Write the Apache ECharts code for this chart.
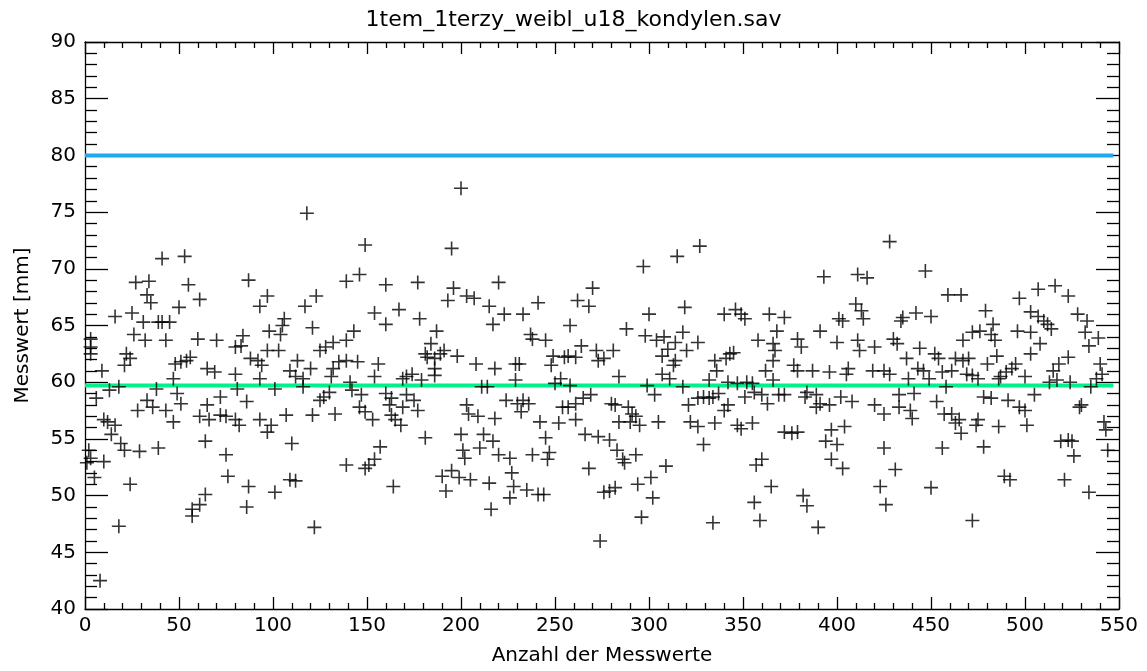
<!DOCTYPE html>
<html>
<head>
<meta charset="utf-8">
<script src="https://cdn.jsdelivr.net/npm/echarts@6/dist/echarts.min.js"></script>
<style>
html,body{margin:0;padding:0;background:#fff;}
#chart{width:1147px;height:671px;}
</style>
</head>
<body>
<div id="chart"></div>
<script>
// ---- data (x = Nr. des Messwerts, y = Messwert in mm) ----
const titleText = "1tem_1terzy_weibl_u18_kondylen.sav";
const xName = "Anzahl der Messwerte";
const yName = "Messwert [mm]";
const upperLimit = 80;
const meanValue = 59.7;
const lineEnd = 547;

const pts_000_044 = [[41,70.9],[27,68.8],[34,68.9],[33,67.7],[35,67.0],[16,65.8],[25,66.1],[31,65.3],[39,65.3],[41,65.3],[3,63.8],[3,63.1],[3,62.5],[26,64.2],[32,63.7],[22,62.5],[24,62.1],[21,61.5],[43,63.7],[9,61.0],[13,59.3],[18,59.6],[38,59.4],[33,58.4],[6,58.6],[28,57.5],[36,57.8],[43,57.5],[10,56.7],[12,56.5],[16,56.2],[14,55.4],[19,54.6],[21,54.0],[29,53.9],[39,54.2],[2,54.0],[3,53.3],[10,53.0],[1,52.9],[5,51.6],[24,51.0],[18,47.3],[8,42.5]];
const pts_045_089 = [[53,71.1],[87,69.0],[55,68.6],[61,67.3],[50,66.6],[45,65.3],[60,63.8],[70,63.7],[84,64.1],[80,63.1],[83,63.2],[88,62.1],[56,62.2],[54,61.9],[51,61.8],[48,61.6],[65,61.2],[69,60.9],[80,60.7],[47,60.3],[81,59.4],[49,59.0],[51,58.1],[72,58.7],[65,58.0],[86,58.3],[47,56.5],[61,57.0],[66,56.7],[72,57.1],[75,57.0],[80,56.7],[82,56.2],[64,54.8],[75,53.6],[76,51.7],[87,50.8],[64,50.1],[61,49.2],[57,48.8],[57,48.2],[86,49.0]];
const pts_090_135 = [[118,74.9],[123,67.6],[117,66.7],[97,67.6],[93,66.7],[106,65.6],[105,65.0],[98,64.5],[104,64.2],[121,64.8],[97,62.8],[103,62.8],[92,61.9],[94,61.5],[93,60.3],[113,61.9],[109,61.0],[112,60.5],[116,60.3],[120,61.2],[125,62.8],[128,63.1],[132,63.5],[135,61.8],[132,61.2],[131,60.5],[101,59.4],[116,59.6],[130,59.1],[127,58.7],[125,58.4],[93,56.7],[99,56.2],[97,55.6],[107,57.1],[121,57.1],[133,57.2],[110,54.6],[109,51.4],[112,51.3],[101,50.3],[122,47.2]];
const pts_136_182 = [[149,72.1],[146,69.5],[139,68.9],[160,68.6],[177,68.8],[154,66.1],[160,65.1],[167,66.4],[178,65.6],[143,64.5],[139,63.7],[139,61.9],[145,61.8],[156,61.6],[154,60.5],[141,60.0],[169,60.3],[171,60.5],[174,60.7],[179,60.2],[181,62.5],[182,62.2],[142,59.3],[147,58.9],[160,59.0],[163,58.6],[171,58.9],[146,57.8],[149,57.4],[153,56.7],[162,58.0],[169,57.8],[175,58.4],[177,57.5],[163,57.1],[165,56.7],[168,56.2],[181,55.1],[157,54.3],[154,53.2],[139,52.7],[151,52.7],[149,52.4],[164,50.8]];
const pts_183_229 = [[200,77.1],[195,71.8],[220,68.8],[196,68.3],[193,67.2],[203,67.6],[207,67.4],[215,66.7],[223,66.0],[217,65.1],[187,64.5],[184,63.4],[191,62.8],[189,62.5],[198,62.3],[186,62.1],[186,61.2],[186,60.6],[208,61.6],[218,61.2],[229,61.6],[211,59.6],[214,59.6],[229,60.2],[224,58.4],[230,58.1],[203,58.0],[204,57.2],[209,57.0],[218,56.8],[200,55.4],[212,55.4],[217,54.8],[201,54.0],[202,53.3],[210,54.2],[220,53.6],[226,53.3],[190,51.7],[195,52.2],[199,51.6],[205,51.4],[215,51.1],[192,50.4],[227,52.0],[228,50.8],[226,49.8],[216,48.8]];
const pts_230_276 = [[270,68.3],[262,67.2],[268,66.7],[241,67.0],[233,66.0],[258,65.0],[237,64.2],[238,63.8],[245,63.7],[264,63.2],[272,62.8],[276,62.1],[249,62.3],[255,62.2],[257,62.3],[261,62.2],[273,61.9],[231,61.6],[248,61.5],[253,60.3],[250,59.9],[258,59.7],[269,58.9],[265,58.6],[261,58.1],[254,57.8],[257,57.8],[233,58.4],[236,58.1],[232,57.4],[242,56.5],[252,56.4],[261,56.7],[266,55.4],[273,55.2],[245,55.1],[238,53.6],[247,53.8],[246,53.2],[268,52.4],[235,50.5],[241,50.1],[244,50.1],[276,50.3],[274,46.0]];
const pts_277_323 = [[297,70.2],[315,71.1],[300,66.0],[319,66.6],[288,64.7],[298,64.1],[304,63.7],[308,64.0],[318,64.4],[314,63.5],[310,62.9],[320,62.8],[307,62.3],[314,61.9],[313,61.5],[281,62.8],[284,60.5],[307,60.7],[311,60.3],[299,59.7],[303,58.9],[318,59.6],[280,58.1],[282,58.0],[289,57.8],[291,57.2],[293,57.0],[295,56.2],[290,56.5],[284,56.5],[279,54.9],[283,54.0],[286,53.2],[287,52.9],[293,53.6],[305,56.5],[309,52.6],[321,58.0],[322,56.5],[282,50.7],[279,50.4],[294,51.0],[301,51.6],[302,49.8],[296,48.1]];
const pts_324_369 = [[327,72.0],[326,63.5],[340,66.0],[346,66.4],[349,66.0],[351,65.6],[364,66.0],[358,63.7],[368,64.5],[366,63.4],[367,62.8],[366,61.9],[362,61.0],[345,62.6],[343,62.5],[341,62.1],[335,61.9],[336,61.0],[332,60.2],[342,60.0],[347,59.9],[352,60.0],[355,59.9],[366,60.2],[337,59.0],[356,59.1],[326,58.6],[329,58.7],[332,58.6],[334,58.7],[351,58.7],[360,58.9],[363,58.1],[369,58.9],[342,58.0],[340,57.5],[335,56.4],[347,56.2],[349,55.9],[355,56.4],[326,56.1],[329,54.5],[360,53.2],[357,52.7],[365,50.8],[356,49.4],[359,47.8],[334,47.6]];
const pts_370_416 = [[393,69.3],[411,69.5],[416,69.2],[410,66.9],[413,66.3],[372,65.7],[401,65.6],[403,65.4],[414,65.6],[391,64.5],[379,63.8],[381,63.1],[400,63.5],[411,63.7],[412,62.8],[377,61.5],[379,61.0],[387,61.0],[396,60.9],[406,61.2],[405,60.7],[384,59.1],[383,58.7],[372,58.9],[389,58.9],[391,58.1],[389,57.8],[396,58.0],[402,58.7],[408,58.3],[372,55.6],[376,55.5],[379,55.6],[397,55.8],[404,56.1],[394,54.8],[400,54.5],[397,53.2],[403,52.4],[382,50.0],[384,49.1],[390,47.2]];
const pts_417_463 = [[428,72.4],[447,69.8],[459,67.7],[442,66.1],[450,65.8],[435,65.7],[434,65.4],[430,63.8],[432,63.4],[420,63.1],[444,63.0],[437,62.1],[452,62.5],[454,62.1],[463,62.1],[419,61.0],[425,61.0],[428,60.7],[438,60.3],[443,61.2],[446,61.0],[449,60.3],[456,60.9],[461,61.0],[458,59.6],[433,58.9],[441,59.0],[420,58.0],[433,57.8],[439,57.5],[440,56.8],[453,58.3],[457,57.2],[461,57.2],[425,57.2],[463,56.4],[425,54.2],[456,54.2],[431,52.3],[423,50.8],[450,50.7],[426,49.2]];
const pts_464_510 = [[466,67.7],[507,68.2],[497,67.4],[479,66.3],[503,66.2],[507,65.8],[510,65.4],[483,65.1],[476,64.5],[472,64.4],[496,64.5],[503,64.4],[482,64.2],[484,63.7],[467,63.7],[508,63.4],[503,62.5],[485,62.3],[480,61.6],[470,62.1],[467,61.9],[495,61.6],[493,61.2],[490,60.9],[487,60.5],[486,60.3],[469,60.7],[472,60.6],[475,60.3],[500,60.5],[505,58.9],[478,58.7],[482,58.6],[491,58.4],[497,57.8],[500,57.5],[465,56.7],[466,55.5],[475,56.7],[474,56.2],[486,56.1],[501,56.2],[478,54.3],[489,51.7],[492,51.4],[472,47.8]];
const pts_511_550 = [[516,68.5],[523,67.6],[528,66.0],[533,65.4],[512,65.1],[514,64.7],[532,64.4],[539,63.9],[534,63.2],[523,62.2],[518,61.6],[515,61.0],[540,61.6],[541,60.7],[538,60.3],[535,59.6],[517,60.2],[513,60.0],[524,60.0],[530,58.0],[529,57.8],[542,56.5],[543,55.8],[544,54.0],[519,54.8],[523,54.9],[525,54.8],[526,53.5],[521,51.4],[534,50.3]];

const xTicks = {min: 0, max: 550, step: 50};
const yTicks = {min: 40, max: 90, step: 5};

// ---- build ----
const allPoints = [].concat(pts_000_044, pts_045_089, pts_090_135, pts_136_182, pts_183_229,
  pts_230_276, pts_277_323, pts_324_369, pts_370_416, pts_417_463, pts_464_510, pts_511_550);

const FONT = "DejaVu Sans";
const axisLineStyle = {color: '#000', width: 1.3};

function xAxisDef(pos, show) {
  return {
    type: 'value', position: pos, min: xTicks.min, max: xTicks.max, interval: xTicks.step,
    name: show ? xName : '', nameLocation: 'middle', nameGap: 37,
    nameTextStyle: {fontFamily: FONT, fontSize: 20, color: '#000'},
    axisLine: {show: true, onZero: false, lineStyle: axisLineStyle},
    axisTick: {show: true, inside: true, length: 12, lineStyle: {color: '#000', width: 1.3}},
    minorTick: {show: true, splitNumber: 5, length: 6, lineStyle: {color: '#000', width: 1.3}},
    axisLabel: {show: show, color: '#000', fontFamily: FONT, fontSize: 20, margin: 7},
    splitLine: {show: false}
  };
}
function yAxisDef(pos, show) {
  return {
    type: 'value', position: pos, min: yTicks.min, max: yTicks.max, interval: yTicks.step,
    name: show ? yName : '', nameLocation: 'middle', nameGap: 52,
    nameTextStyle: {fontFamily: FONT, fontSize: 20, color: '#000'},
    axisLine: {show: true, onZero: false, lineStyle: axisLineStyle},
    axisTick: {show: true, inside: true, length: 23, lineStyle: {color: '#000', width: 1.3}},
    minorTick: {show: true, splitNumber: 5, length: 12, lineStyle: {color: '#000', width: 1.3}},
    axisLabel: {show: show, color: '#000', fontFamily: FONT, fontSize: 20, margin: 9},
    splitLine: {show: false}
  };
}

const chart = echarts.init(document.getElementById('chart'), null, {renderer: 'canvas'});
chart.setOption({
  backgroundColor: '#fff',
  animation: false,
  title: {
    text: titleText, left: 'center', top: 4,
    textStyle: {fontFamily: FONT, fontSize: 22, fontWeight: 'normal', color: '#000'}
  },
  grid: {left: 85, right: 28, top: 42, bottom: 57},
  xAxis: [xAxisDef('bottom', true), xAxisDef('top', false)],
  yAxis: [yAxisDef('left', true), yAxisDef('right', false)],
  series: [
    {
      type: 'line', data: [[xTicks.min, upperLimit], [lineEnd, upperLimit]],
      symbol: 'none', lineStyle: {color: '#1eaaf0', width: 4}, z: 2
    },
    {
      type: 'line', data: [[xTicks.min, meanValue], [lineEnd, meanValue]],
      symbol: 'none', lineStyle: {color: '#00f08c', width: 4}, z: 2
    },
    {
      type: 'scatter', data: allPoints,
      symbol: 'path://M5,0 L5,10 M0,5 L10,5', symbolSize: 14,
      itemStyle: {color: 'none', borderColor: '#000', borderWidth: 1.6},
      z: 3
    }
  ]
});
</script>
</body>
</html>
